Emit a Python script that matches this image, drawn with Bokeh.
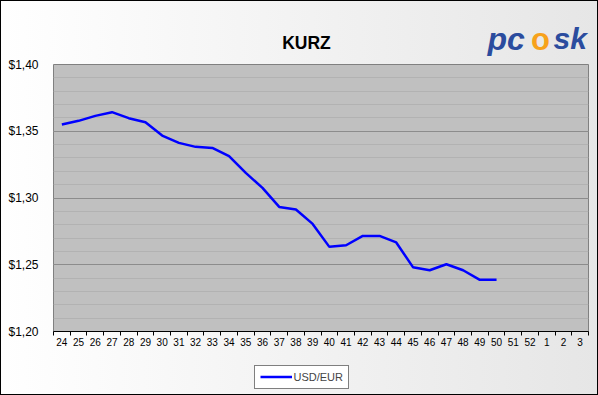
from bokeh.plotting import figure
from bokeh.layouts import column
from bokeh.models import FixedTicker, Label, Legend, LegendItem, Range1d, ColumnDataSource
from bokeh.embed import file_html
from bokeh.resources import INLINE

# ---- data ----
weeks = ["24", "25", "26", "27", "28", "29", "30", "31", "32", "33", "34", "35",
         "36", "37", "38", "39", "40", "41", "42", "43", "44", "45", "46", "47",
         "48", "49", "50", "51", "52", "1", "2", "3"]
usd_eur = [1.3550, 1.3578, 1.3615, 1.3643, 1.3598, 1.3568, 1.3468, 1.3413,
           1.3383, 1.3375, 1.3313, 1.3188, 1.3076, 1.2933, 1.2914, 1.2806,
           1.2634, 1.2646, 1.2716, 1.2716, 1.2667, 1.2482, 1.2459, 1.2504,
           1.2459, 1.2387, 1.2387]
y_ticks = [1.20, 1.25, 1.30, 1.35, 1.40]
y_tick_labels = ["$1,20", "$1,25", "$1,30", "$1,35", "$1,40"]
series_name = "USD/EUR"
title_text = "KURZ"

FONT = "Liberation Sans"
W, H = 598, 395
HEAD, FOOT = 56, 32                  # header / footer strip heights
FL, FR, FT, FB = 53, 588, 64, 331   # frame edges in page pixels
LINE_COLOR = "#0000ff"

n = len(weeks)
xs = [i + 0.5 for i in range(len(usd_eur))]
src = ColumnDataSource(dict(x=xs, y=usd_eur))


def strip(height):
    f = figure(width=W, height=height, output_backend="svg", toolbar_location=None,
               x_axis_location=None, y_axis_location=None,
               x_range=Range1d(0, 1), y_range=Range1d(0, 1),
               min_border_left=FL, min_border_right=W - FR,
               min_border_top=0, min_border_bottom=0)
    f.border_fill_color = None
    f.background_fill_color = None
    f.outline_line_color = None
    f.xgrid.visible = False
    f.ygrid.visible = False
    return f


# ---- header (title + logo); label positions are relative to the strip's frame ----
head = strip(HEAD)


def hlabel(x, y, text, **kw):
    head.add_layout(Label(x=x - FL, y=HEAD - y, x_units="screen", y_units="screen",
                          text=text, text_font=FONT, **kw))


hlabel(306, 42, title_text, text_align="center", text_baseline="alphabetic",
       text_font_style="bold", text_font_size="17.5px", text_color="black")
hlabel(487, 38, "pc", text_align="left", text_baseline="alphabetic",
       text_font_style="bold italic", text_font_size="32px", text_color="#2b4c9e")
hlabel(540, 39, "o", text_align="center", text_baseline="alphabetic",
       text_font_style="bold", text_font_size="31px", text_color="#f7a21b")
hlabel(553, 38, "sk", text_align="left", text_baseline="alphabetic",
       text_font_style="bold italic", text_font_size="30px", text_color="#2b4c9e")

# ---- main chart ----
p = figure(width=W, height=H - HEAD - FOOT, output_backend="svg", toolbar_location=None,
           x_range=Range1d(0, n), y_range=Range1d(y_ticks[0], y_ticks[-1]),
           min_border_left=FL, min_border_right=W - FR,
           min_border_top=FT - HEAD, min_border_bottom=H - FOOT - FB)
p.border_fill_color = None
p.background_fill_color = "#c0c0c0"
p.outline_line_color = "#808080"

# x axis
xt = FixedTicker(ticks=[i + 0.5 for i in range(n)], minor_ticks=list(range(n + 1)))
p.xaxis.ticker = xt
p.xaxis.major_label_overrides = {i + 0.5: w for i, w in enumerate(weeks)}
p.xaxis.major_tick_line_color = None
p.xaxis.major_tick_out = 4
p.xaxis.major_tick_in = 0
p.xaxis.minor_tick_line_color = "black"
p.xaxis.minor_tick_out = 4
p.xaxis.minor_tick_in = 0
p.xaxis.axis_line_color = "black"
p.xaxis.major_label_text_font = FONT
p.xaxis.major_label_text_font_size = "10px"
p.xaxis.major_label_text_color = "#000000"
p.xaxis.major_label_standoff = 2
p.xgrid.visible = False

# y axis
yminor = [round(1.20 + 0.01 * k, 2) for k in range(21)]
yt = FixedTicker(ticks=y_ticks, minor_ticks=yminor)
p.yaxis.ticker = yt
p.yaxis.major_label_overrides = {t: l for t, l in zip(y_ticks, y_tick_labels)}
p.yaxis.axis_line_color = None
p.yaxis.major_tick_line_color = None
p.yaxis.minor_tick_line_color = None
p.yaxis.major_label_text_font = FONT
p.yaxis.major_label_text_font_size = "12px"
p.yaxis.major_label_text_color = "#000000"
p.yaxis.major_label_standoff = 9
p.ygrid.ticker = yt
p.ygrid.grid_line_color = "#8c8c8c"
p.ygrid.minor_grid_line_color = "#b2b2b2"

p.line("x", "y", source=src, line_color=LINE_COLOR, line_width=2.5)

# ---- footer with the legend; its renderer shares the series but lies outside
#      the strip's (0..1) range, so only the legend sample is visible ----
foot = strip(FOOT)
sample = foot.line("x", "y", source=src, line_color=LINE_COLOR, line_width=2.5)
legend = Legend(items=[LegendItem(label=series_name, renderers=[sample])],
                location=(253 - FL + 0.5, H - 388 - 0.5))
legend.background_fill_color = "white"
legend.background_fill_alpha = 1
legend.border_line_color = "black"
legend.border_line_width = 1
legend.label_text_font = FONT
legend.label_text_font_size = "11px"
legend.glyph_width = 32
legend.glyph_height = 11
legend.label_standoff = 2
legend.padding = 5
legend.margin = 0
foot.add_layout(legend, "center")

page = column(head, p, foot, spacing=0,
              styles={"background": "linear-gradient(to right, #ffffff, #e6e6e6)",
                      "box-shadow": "inset 0 0 0 1px #000000"})

open("out.html", "w").write(file_html(page, INLINE))
